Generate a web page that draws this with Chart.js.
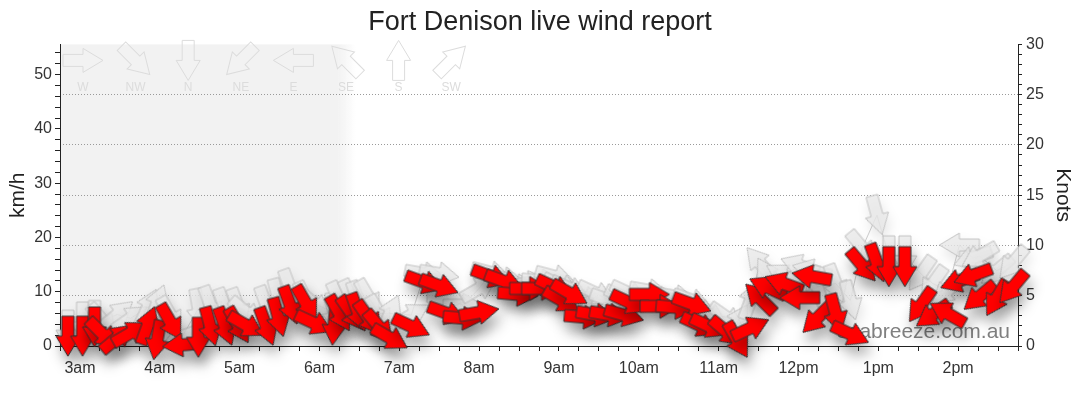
<!DOCTYPE html>
<html>
<head>
<meta charset="utf-8">
<title>Fort Denison live wind report</title>
<script src="https://cdn.jsdelivr.net/npm/chart.js@4/dist/chart.umd.min.js"></script>
<style>
  body { margin: 0; background: #fff; }
</style>
</head>
<body>
<canvas id="windChart" width="1080" height="414"></canvas>
<script>
// times in minutes after midnight
const times = [171, 182, 191, 197, 208, 218, 231, 238, 248, 257,
  269, 278, 289, 299, 305, 320, 329, 338, 350, 356,
  371, 375, 384, 389, 397, 405, 413, 429, 439, 450,
  456, 468, 480, 489, 499, 509, 518, 527, 537, 542,
  548, 559, 568, 578, 589, 593, 608, 616, 628, 640,
  646, 653, 666, 674, 684, 691, 697, 709, 721, 730,
  734, 748, 759, 768, 779, 788, 800, 812, 821, 832,
  841, 851, 856, 869, 881];

// average wind, km/h
const avgSpeed = [1.8, 1.8, 3.5, 2.2, 1.5, 2.4, 3.8, 1.1, 4.4, 0.2,
  1.6, 3.6, 3.6, 3.8, 3.8, 3.6, 5.3, 7.5, 7.8, 4.2,
  3.8, 6.0, 6.0, 6.2, 5.1, 3.5, 1.5, 3.6, 11.7, 11.1,
  6.0, 5.1, 6.2, 12.8, 11.9, 9.5, 10.6, 10.6, 10.8, 8.4,
  9.7, 5.3, 5.7, 5.7, 5.7, 8.0, 9.5, 7.3, 7.1, 7.7,
  3.8, 3.6, 2.6, 1.1, 3.3, 8.8, 10.8, 11.5, 8.9, 12.8,
  5.1, 6.0, 2.2, 14.8, 15.3, 14.6, 14.6, 7.5, 5.8, 6.0,
  12.0, 13.0, 9.1, 8.8, 10.8];

// direction the wind comes from, degrees
const avgDir = [0, 0, 0, 315, 230, 240, 200, 10, 330, 85,
  0, 345, 340, 330, 300, 340, 345, 340, 330, 295,
  5, 330, 325, 340, 325, 320, 300, 295, 290, 290,
  290, 275, 260, 290, 290, 275, 270, 270, 295, 300,
  300, 275, 280, 280, 285, 295, 270, 270, 275, 290,
  295, 295, 310, 330, 245, 135, 115, 110, 90, 100,
  45, 345, 295, 320, 340, 0, 0, 35, 55, 120,
  70, 70, 50, 30, 40];

// gusts, km/h
const gustSpeed = [2.9, 4.4, 4.7, 4.7, 5.8, 5.1, 7.1, 7.8, 5.7, 1.8,
  6.9, 7.5, 7.1, 7.1, 6.2, 7.5, 8.8, 10.6, 8.4, 7.8,
  6.2, 8.4, 8.8, 8.4, 8.9, 6.0, 6.0, 5.7, 13.3, 13.3,
  8.8, 7.5, 10.6, 13.5, 12.4, 11.1, 11.7, 12.0, 12.8, 11.1,
  10.6, 8.9, 9.7, 8.4, 8.9, 9.7, 10.2, 8.8, 9.1, 8.4,
  6.6, 5.8, 5.3, 4.4, 8.4, 15.3, 13.0, 13.0, 14.8, 13.9,
  10.9, 11.5, 8.4, 18.1, 24.1, 16.6, 16.6, 13.3, 11.5, 10.2,
  18.6, 16.2, 16.6, 13.9, 15.3];

const gustDir = [0, 0, 0, 320, 230, 235, 205, 200, 330, 70,
  350, 340, 340, 340, 310, 340, 345, 340, 335, 310,
  350, 335, 335, 340, 330, 330, 205, 240, 280, 280,
  275, 270, 240, 285, 280, 275, 260, 275, 285, 295,
  295, 290, 295, 290, 295, 295, 280, 275, 280, 290,
  295, 300, 305, 210, 200, 140, 150, 120, 110, 105,
  160, 340, 345, 320, 345, 0, 0, 35, 35, 50,
  90, 70, 60, 50, 40];

const keyLabels = ["W", "NW", "N", "NE", "E", "SE", "S", "SW"];
const keyFrom = [270, 315, 0, 45, 90, 135, 180, 225];

const darkUntil = 383; // shading ends about 6:23am
const KMH_PER_KNOT = 1.852;

Chart.defaults.font.family = "'Liberation Sans', Arial, sans-serif";

// arrow pointing up, centred on 0,0
function arrowPath(ctx) {
  ctx.beginPath();
  ctx.moveTo(0, -20);
  ctx.lineTo(12, 0);
  ctx.lineTo(6, 0);
  ctx.lineTo(6, 20);
  ctx.lineTo(-6, 20);
  ctx.lineTo(-6, 0);
  ctx.lineTo(-12, 0);
  ctx.closePath();
}

function makeArrow(fill, stroke) {
  const c = document.createElement("canvas");
  c.width = 50;
  c.height = 50;
  const g = c.getContext("2d");
  g.translate(25, 25);
  arrowPath(g);
  g.fillStyle = fill;
  g.fill();
  g.lineWidth = 1;
  g.strokeStyle = stroke;
  g.stroke();
  return c;
}

const redArrow = makeArrow("#ff0000", "#333333");
const greyArrow = makeArrow("rgba(232,232,232,0.8)", "rgba(190,190,190,0.9)");

function hourLabel(v) {
  if (v % 60 !== 0) return "";
  const h = v / 60;
  if (h === 0) return "12am";
  if (h < 12) return h + "am";
  if (h === 12) return "12pm";
  return (h - 12) + "pm";
}

const nightShade = {
  id: "nightShade",
  beforeDraw(chart) {
    const { ctx, chartArea: a, scales } = chart;
    const xe = scales.x.getPixelForValue(darkUntil);
    ctx.save();
    ctx.fillStyle = "#f2f2f2";
    ctx.fillRect(a.left, a.top, xe - 12 - a.left, a.bottom - a.top);
    const grad = ctx.createLinearGradient(xe - 12, 0, xe + 6, 0);
    grad.addColorStop(0, "rgba(242,242,242,1)");
    grad.addColorStop(1, "rgba(242,242,242,0)");
    ctx.fillStyle = grad;
    ctx.fillRect(xe - 12, a.top, 18, a.bottom - a.top);

    // direction key
    ctx.strokeStyle = "#dcdcdc";
    ctx.lineWidth = 1;
    ctx.fillStyle = "#dcdcdc";
    ctx.font = "12px 'Liberation Sans', Arial, sans-serif";
    ctx.textAlign = "center";
    ctx.textBaseline = "middle";
    keyLabels.forEach((lab, i) => {
      const x = a.left + 23 + i * 52.6;
      const y = a.top + 16;
      ctx.save();
      ctx.translate(x, y);
      ctx.rotate(((keyFrom[i] + 180) % 360) * Math.PI / 180);
      arrowPath(ctx);
      ctx.stroke();
      ctx.restore();
      ctx.fillText(lab, x, a.top + 43);
    });
    ctx.restore();
  },
  beforeDatasetsDraw(chart) {
    const { ctx, chartArea: a } = chart;
    ctx.save();
    ctx.fillStyle = "#808080";
    ctx.font = "21px 'Liberation Sans', Arial, sans-serif";
    ctx.textAlign = "right";
    ctx.textBaseline = "alphabetic";
    ctx.fillText("seabreeze.com.au", a.right - 8, a.bottom - 8);
    ctx.restore();
  },
};

const arrowShadow = {
  id: "arrowShadow",
  beforeDatasetDraw(chart, args) {
    const ctx = chart.ctx;
    ctx.save();
    if (args.index === 0) {
      ctx.shadowColor = "rgba(0,0,0,0.32)";
      ctx.shadowBlur = 13;
      ctx.shadowOffsetX = 3;
      ctx.shadowOffsetY = 10;
    } else {
      ctx.shadowColor = "rgba(0,0,0,0.12)";
      ctx.shadowBlur = 12;
      ctx.shadowOffsetX = 2;
      ctx.shadowOffsetY = 7;
    }
  },
  afterDatasetDraw(chart) {
    chart.ctx.restore();
  },
};

const ctx = document.getElementById("windChart").getContext("2d");

new Chart(ctx, {
  type: "line",
  data: {
    datasets: [
      {
        label: "Wind",
        data: times.map((t, i) => ({ x: t, y: avgSpeed[i] })),
        showLine: false,
        pointStyle: redArrow,
        pointRotation: (c) => (avgDir[c.dataIndex] + 180) % 360,
        pointRadius: 20,
        pointHoverRadius: 20,
        clip: false,
      },
      {
        label: "Gust",
        data: times.map((t, i) => ({ x: t, y: gustSpeed[i] })),
        showLine: true,
        borderColor: "rgba(195,195,195,0.8)",
        borderWidth: 1,
        tension: 0,
        pointStyle: greyArrow,
        pointRotation: (c) => (gustDir[c.dataIndex] + 180) % 360,
        pointRadius: 20,
        pointHoverRadius: 20,
        clip: false,
      },
    ],
  },
  options: {
    responsive: false,
    animation: false,
    events: [],
    layout: { padding: 0 },
    plugins: {
      legend: { display: false },
      tooltip: { enabled: false },
      title: {
        display: true,
        text: "Fort Denison live wind report",
        color: "#222",
        font: { size: 27, weight: "normal" },
        padding: { top: 6, bottom: 6 },
      },
    },
    scales: {
      x: {
        type: "linear",
        min: 165,
        max: 885,
        afterFit: (s) => { s.height = 68; },
        border: { color: "#222", width: 1 },
        grid: { drawOnChartArea: false, drawTicks: true, tickLength: 5, tickColor: "#222" },
        ticks: {
          stepSize: 15,
          autoSkip: false,
          maxRotation: 0,
          color: "#333",
          font: { size: 16 },
          padding: 8,
          callback: hourLabel,
        },
      },
      y: {
        type: "linear",
        position: "left",
        min: 0,
        max: 30 * KMH_PER_KNOT,
        afterFit: (s) => { s.width = 60; },
        border: { color: "#222", width: 1 },
        grid: { drawOnChartArea: false, tickLength: 5, tickColor: "#222" },
        ticks: {
          stepSize: 2,
          autoSkip: false,
          includeBounds: false,
          color: "#333",
          font: { size: 16 },
          padding: 3,
          callback: (v) => (v % 10 === 0 ? v : ""),
        },
        title: {
          display: true,
          text: "km/h",
          color: "#222",
          font: { size: 21 },
          padding: { top: 6, bottom: 0 },
        },
      },
      y2: {
        type: "linear",
        position: "right",
        min: 0,
        max: 30,
        afterFit: (s) => { s.width = 62; },
        border: { color: "#222", width: 1, dash: [1, 2] },
        grid: {
          color: (c) => {
            const v = c.tick ? c.tick.value : 0;
            return v % 5 === 0 && v > 0 && v < 30 ? "#9a9a9a" : "rgba(0,0,0,0)";
          },
          lineWidth: 1,
          tickLength: 4,
          tickColor: "#222",
        },
        ticks: {
          stepSize: 1,
          autoSkip: false,
          color: "#333",
          font: { size: 16 },
          padding: 4,
          callback: (v) => (v % 5 === 0 ? v : ""),
        },
        title: {
          display: true,
          text: "Knots",
          color: "#222",
          font: { size: 21 },
          padding: { top: 5, bottom: 0 },
        },
      },
    },
  },
  plugins: [nightShade, arrowShadow],
});
</script>
</body>
</html>
